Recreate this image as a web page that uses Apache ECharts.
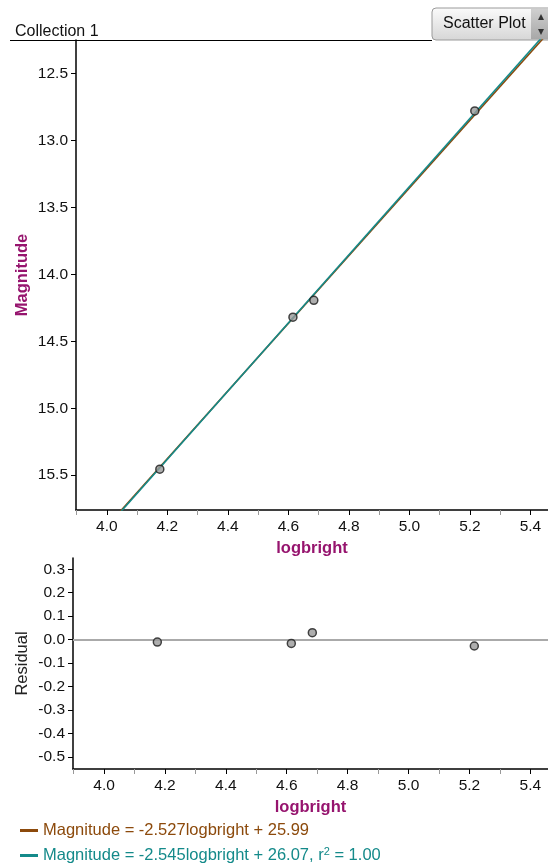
<!DOCTYPE html>
<html>
<head>
<meta charset="utf-8">
<script src="https://cdn.jsdelivr.net/npm/echarts@6/dist/echarts.min.js"></script>
<style>
html,body{margin:0;padding:0;background:#fff;}
#c{width:548px;height:865px;}
</style>
</head>
<body>
<div id="c"></div>
<script>
// ---- data ----
const logbright = [4.175, 4.615, 4.684, 5.216];
const magnitude = [15.455, 14.32, 14.194, 12.78];
const residual = [-0.01, -0.016, 0.03, -0.027];
const fitNames = ['Magnitude = -2.527logbright + 25.99', 'Magnitude = -2.545logbright + 26.07, r2 = 1.00'];
const fitSlopes = [-2.527, -2.545];
const fitIntercepts = [25.99, 26.07];
const fitColors = ['#8c4a0c', '#148a8a'];
const xLabels = [4.0, 4.2, 4.4, 4.6, 4.8, 5.0, 5.2, 5.4];
const xMinor = [3.9, 4.1, 4.3, 4.5, 4.7, 4.9, 5.1, 5.3];
const yLabels = [12.5, 13.0, 13.5, 14.0, 14.5, 15.0, 15.5];
const yMinor = [12.25, 12.75, 13.25, 13.75, 14.25, 14.75, 15.25, 15.75];
const rLabels = [-0.5, -0.4, -0.3, -0.2, -0.1, 0.0, 0.1, 0.2, 0.3];

const X1 = [3.898, 5.458];
const Y1 = [12.25, 15.76];
const Y2 = [-0.551, 0.348];
const purple = '#96146e';
const font = 'Liberation Sans, Arial, sans-serif';
const tickFs = 15.5, titleFs = 16.5;

const chart = echarts.init(document.getElementById('c'), null, {renderer: 'canvas'});

function xAxisMain(grid, name) {
  return {
    type: 'value', gridIndex: grid, min: X1[0], max: X1[1], position: 'bottom',
    name: name, nameLocation: 'middle', nameGap: 30, nameMoveOverlap: false,
    nameTextStyle: {color: purple, fontWeight: 'bold', fontSize: titleFs, fontFamily: font},
    axisLine: {show: true, onZero: false, lineStyle: {color: '#000', width: 1.5}},
    axisTick: {show: true, customValues: xLabels, length: 5, lineStyle: {color: '#000', width: 1}},
    axisLabel: {show: true, customValues: xLabels, margin: 9, color: '#111', fontSize: tickFs, fontFamily: font,
      formatter: v => v.toFixed(1)},
    splitLine: {show: false}
  };
}
function xAxisMinor(grid) {
  return {
    type: 'value', gridIndex: grid, min: X1[0], max: X1[1], position: 'bottom',
    axisLine: {show: false, onZero: false},
    axisTick: {show: true, customValues: xMinor, length: 5, lineStyle: {color: '#999', width: 1}},
    axisLabel: {show: false}, splitLine: {show: false}
  };
}

const series = [];
fitNames.forEach((n, i) => {
  series.push({
    name: n, type: 'line', xAxisIndex: 0, yAxisIndex: 0, clip: true,
    symbol: 'none', silent: true, color: fitColors[i],
    lineStyle: {color: fitColors[i], width: 1.6},
    data: X1.map(x => [x, fitSlopes[i] * x + fitIntercepts[i]]),
    z: 2 + i
  });
});
series.push({
  type: 'scatter', xAxisIndex: 0, yAxisIndex: 0, symbolSize: 8, z: 5,
  itemStyle: {color: '#9a9a9a', borderColor: '#1a1a1a', borderWidth: 1.5},
  data: logbright.map((x, i) => [x, magnitude[i]])
});
series.push({
  type: 'scatter', xAxisIndex: 2, yAxisIndex: 2, symbolSize: 8, z: 5,
  itemStyle: {color: '#9a9a9a', borderColor: '#1a1a1a', borderWidth: 1.5},
  data: logbright.map((x, i) => [x, residual[i]]),
  markLine: {
    silent: true, symbol: 'none', label: {show: false},
    lineStyle: {color: '#aaaaaa', width: 2, type: 'solid'},
    data: [{yAxis: 0}]
  }
});

function legendFor(i, top) {
  return {
    orient: 'vertical', left: 15, top: top,
    icon: 'rect', itemWidth: 18, itemHeight: 3, itemGap: 0,
    selectedMode: false,
    data: [{name: fitNames[i], textStyle: {color: fitColors[i]}}],
    formatter: n => n.replace('r2', 'r{sup|2}'),
    textStyle: {fontSize: titleFs, fontFamily: font, color: fitColors[i],
      rich: {sup: {fontSize: 11, verticalAlign: 'top', padding: [0, 0, 8, 0], fontFamily: font, color: fitColors[i]}}}
  };
}

const option = {
  animation: false,
  backgroundColor: '#fff',
  grid: [
    {left: 76, top: 40, width: 472, height: 470},
    {left: 73, top: 558, width: 475, height: 211}
  ],
  xAxis: [
    xAxisMain(0, 'logbright'), xAxisMinor(0),
    xAxisMain(1, 'logbright'), xAxisMinor(1)
  ],
  yAxis: [
    {
      type: 'value', gridIndex: 0, min: Y1[0], max: Y1[1], inverse: true,
      name: 'Magnitude', nameLocation: 'middle', nameGap: 45, nameMoveOverlap: false,
      nameTextStyle: {color: purple, fontWeight: 'bold', fontSize: titleFs, fontFamily: font},
      axisLine: {show: true, onZero: false, lineStyle: {color: '#000', width: 1.5}},
      axisTick: {show: true, customValues: yLabels, length: 5, lineStyle: {color: '#000'}},
      axisLabel: {customValues: yLabels, margin: 8, color: '#111', fontSize: tickFs, fontFamily: font,
        formatter: v => v.toFixed(1)},
      splitLine: {show: false}
    },
    {
      type: 'value', gridIndex: 0, min: Y1[0], max: Y1[1], inverse: true,
      axisLine: {show: false, onZero: false},
      axisTick: {show: true, customValues: yMinor, length: 5, lineStyle: {color: '#999'}},
      axisLabel: {show: false}, splitLine: {show: false}
    },
    {
      type: 'value', gridIndex: 1, min: Y2[0], max: Y2[1],
      name: 'Residual', nameLocation: 'middle', nameGap: 42, nameMoveOverlap: false,
      nameTextStyle: {color: '#222', fontSize: titleFs, fontFamily: font},
      axisLine: {show: true, onZero: false, lineStyle: {color: '#000', width: 1.5}},
      axisTick: {show: true, customValues: rLabels, length: 5, lineStyle: {color: '#000'}},
      axisLabel: {customValues: rLabels, margin: 8, color: '#111', fontSize: tickFs, fontFamily: font,
        formatter: v => (Math.abs(v) < 1e-9 ? 0 : v).toFixed(1)},
      splitLine: {show: false}
    }
  ],
  legend: [legendFor(0, 817), legendFor(1, 841)],
  series: series,
  graphic: [
    {type: 'text', left: 15, top: 24, style: {text: 'Collection 1', font: '16px ' + font, fill: '#111'}},
    {type: 'line', shape: {x1: 10, y1: 40.5, x2: 432, y2: 40.5}, style: {stroke: '#000', lineWidth: 1.2}},
    {type: 'rect', shape: {x: 432, y: 8, width: 124, height: 32, r: 4},
      style: {fill: new echarts.graphic.LinearGradient(0, 0, 0, 1, [{offset: 0, color: '#fbfbfb'}, {offset: 1, color: '#d6d6d6'}]),
        stroke: '#9a9a9a', lineWidth: 1}},
    {type: 'rect', shape: {x: 531, y: 9, width: 17, height: 30},
      style: {fill: new echarts.graphic.LinearGradient(0, 0, 0, 1, [{offset: 0, color: '#cfcfcf'}, {offset: 1, color: '#a8a8a8'}])}},
    {type: 'polygon', shape: {points: [[538, 20], [544, 20], [541, 14]]}, style: {fill: '#333'}},
    {type: 'polygon', shape: {points: [[538, 29], [544, 29], [541, 35]]}, style: {fill: '#333'}},
    {type: 'text', left: 443, top: 16, style: {text: 'Scatter Plot', font: '16px ' + font, fill: '#111'}}
  ]
};
chart.setOption(option);
</script>
</body>
</html>
